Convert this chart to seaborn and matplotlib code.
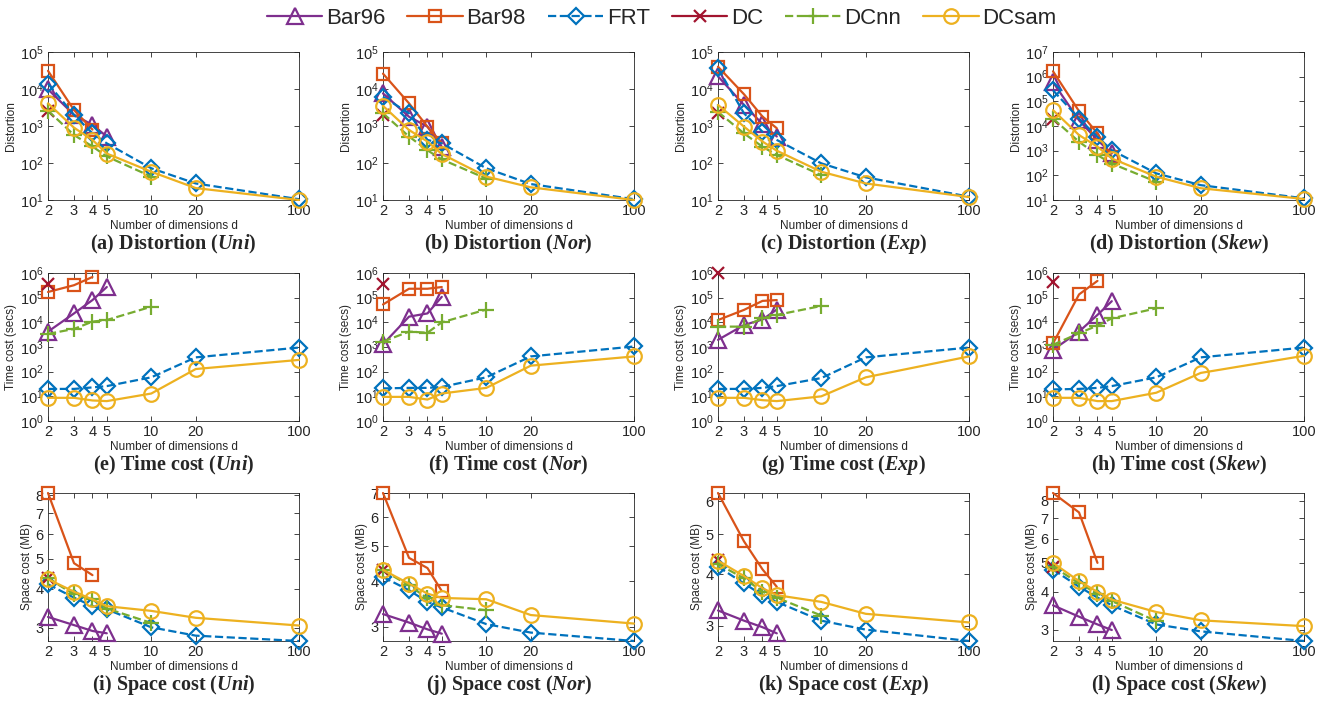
import numpy as np
import pandas as pd
import matplotlib
matplotlib.use("Agg")
import matplotlib.pyplot as plt
import seaborn as sns
from matplotlib.ticker import FixedLocator, FixedFormatter, NullLocator, LogLocator

dims = [2, 3, 4, 5, 10, 20, 100]
dim_labels = ["2", "3", "4", "5", "10", "20", "100"]
methods = ["Bar96", "Bar98", "FRT", "DC", "DCnn", "DCsam"]
dists = ["Uni", "Nor", "Exp", "Skew"]
N = None

# distortion
dist_uni = {"Bar96": [9800, 2000, 1070, 520, N, N, N],
            "Bar98": [31000, 2700, 800, N, N, N, N],
            "FRT": [14000, 2000, 630, 340, 72, 28, 10.5],
            "DC": [2550, N, N, N, N, N, N],
            "DCnn": [2600, 570, 280, 150, 43, N, N],
            "DCsam": [4100, 900, 420, 180, 58, 21, 10]}
dist_nor = {"Bar96": [7600, 1780, 960, 275, N, N, N],
            "Bar98": [26000, 4100, 960, 340, N, N, N],
            "FRT": [6200, 2200, 420, 340, 72, 27, 10.5],
            "DC": [2000, N, N, N, N, N, N],
            "DCnn": [2200, 520, 220, 125, 38, N, N],
            "DCsam": [3500, 780, 380, 175, 43, 22, 10]}
dist_exp = {"Bar96": [22000, 3700, 1130, 520, N, N, N],
            "Bar98": [40000, 7200, 1800, 870, N, N, N],
            "FRT": [36000, 2200, 700, 420, 98, 41, 12.3],
            "DC": [2300, N, N, N, N, N, N],
            "DCnn": [2400, 630, 275, 165, 47, N, N],
            "DCsam": [3700, 960, 380, 215, 58, 28, 12]}
dist_skew = {"Bar96": [6e5, 1.7e4, 2700, 770, N, N, N],
             "Bar98": [1.65e6, 4e4, 5000, 560, N, N, N],
             "FRT": [2.8e5, 2e4, 3600, 1050, 120, 40, 11.7],
             "DC": [2e4, N, N, N, N, N, N],
             "DCnn": [2e4, 2300, 660, 300, 55, N, N],
             "DCsam": [4.4e4, 4300, 1440, 480, 88, 30, 11]}

# time cost (secs)
time_uni = {"Bar96": [4200, 2.3e4, 8e4, 2.7e5, N, N, N],
            "Bar98": [1.7e5, 3.2e5, 6.9e5, N, N, N, N],
            "FRT": [20, 20, 23, 26, 59, 380, 950],
            "DC": [3.7e5, N, N, N, N, N, N],
            "DCnn": [3400, 5400, 1.07e4, 1.24e4, 4.3e4, N, N],
            "DCsam": [8.7, 8.7, 6.8, 6.4, 13, 128, 300]}
time_nor = {"Bar96": [1300, 1.7e4, 2.3e4, 1.08e5, N, N, N],
            "Bar98": [5.3e4, 2.3e5, 2.3e5, 2.7e5, N, N, N],
            "FRT": [21, 22, 22, 24, 59, 415, 1050],
            "DC": [3.5e5, N, N, N, N, N, N],
            "DCnn": [1660, 4200, 3800, 1e4, 3.3e4, N, N],
            "DCsam": [9.5, 9.5, 7.4, 13, 22, 175, 415]}
time_exp = {"Bar96": [1950, 7800, 1.3e4, 3.3e4, N, N, N],
            "Bar98": [1.24e4, 3.2e4, 7.4e4, 8e4, N, N, N],
            "FRT": [20, 20, 22, 26, 55, 380, 950],
            "DC": [1e6, N, N, N, N, N, N],
            "DCnn": [6700, 6700, 1.45e4, 2e4, 4.6e4, N, N],
            "DCsam": [8.7, 8.7, 7, 6.4, 10, 59, 415]}
time_skew = {"Bar96": [770, 4200, 2e4, 7.2e4, N, N, N],
             "Bar98": [1400, 1.35e5, 4.8e5, N, N, N, N],
             "FRT": [19, 20, 22, 26, 59, 380, 950],
             "DC": [4.4e5, N, N, N, N, N, N],
             "DCnn": [1230, 3600, 7400, 1.45e4, 3.7e4, N, N],
             "DCsam": [8.7, 8.7, 6.4, 6.4, 14, 89, 440]}

# space cost (MB)
space_uni = {"Bar96": [3.25, 3.06, 2.93, 2.88, N, N, N],
             "Bar98": [8.14, 4.84, 4.43, N, N, N, N],
             "FRT": [4.14, 3.75, 3.52, 3.44, 3.01, 2.83, 2.72],
             "DC": [4.35, N, N, N, N, N, N],
             "DCnn": [4.33, 3.84, 3.70, 3.46, 3.11, N, N],
             "DCsam": [4.30, 3.92, 3.70, 3.52, 3.40, 3.23, 3.05]}
space_nor = {"Bar96": [3.25, 3.08, 2.95, 2.87, N, N, N],
             "Bar98": [7.0, 4.64, 4.35, 3.76, N, N, N],
             "FRT": [4.11, 3.78, 3.51, 3.39, 3.05, 2.89, 2.74],
             "DC": [4.29, N, N, N, N, N, N],
             "DCnn": [4.29, 3.90, 3.59, 3.44, 3.33, N, N],
             "DCsam": [4.30, 3.94, 3.70, 3.60, 3.57, 3.23, 3.06]}
space_exp = {"Bar96": [3.27, 3.09, 2.98, 2.88, N, N, N],
             "Bar98": [6.28, 4.80, 4.11, 3.73, N, N, N],
             "FRT": [4.17, 3.80, 3.56, 3.43, 3.09, 2.94, 2.76],
             "DC": [4.33, N, N, N, N, N, N],
             "DCnn": [4.23, 3.91, 3.63, 3.51, 3.18, N, N],
             "DCsam": [4.31, 3.96, 3.70, 3.56, 3.43, 3.21, 3.06]}
space_skew = {"Bar96": [3.61, 3.31, 3.12, 2.99, N, N, N],
              "Bar98": [8.5, 7.33, 4.99, N, N, N, N],
              "FRT": [4.74, 4.16, 3.83, 3.61, 3.12, 2.96, 2.75],
              "DC": [4.84, N, N, N, N, N, N],
              "DCnn": [4.85, 4.27, 3.95, 3.73, 3.20, N, N],
              "DCsam": [4.99, 4.34, 4.0, 3.77, 3.43, 3.22, 3.08]}

rows = [
    ("Distortion", "Distortion", [dist_uni, dist_nor, dist_exp, dist_skew]),
    ("Time cost (secs)", "Time cost", [time_uni, time_nor, time_exp, time_skew]),
    ("Space cost (MB)", "Space cost", [space_uni, space_nor, space_exp, space_skew]),
]
letters = "abcdefghijkl"

colors = {"Bar96": "#7E2F8E", "Bar98": "#D95319", "FRT": "#0072BD",
          "DC": "#A2142F", "DCnn": "#77AC30", "DCsam": "#EDB120"}
markers = {"Bar96": "^", "Bar98": "s", "FRT": "D", "DC": "x", "DCnn": "+", "DCsam": "o"}
msizes = {"Bar96": 11.5, "Bar98": 8.5, "FRT": 8, "DC": 9, "DCnn": 12, "DCsam": 10.5}
styles = {"FRT": "--", "DCnn": "--"}

sns.set_style("ticks")
plt.rcParams["font.family"] = ["Liberation Sans", "DejaVu Sans"]
plt.rcParams["mathtext.fontset"] = "custom"
plt.rcParams["mathtext.rm"] = "Liberation Sans"
plt.rcParams["mathtext.bf"] = "Liberation Serif:bold"
plt.rcParams["mathtext.bfit"] = "Liberation Serif:italic:bold"
plt.rcParams["axes.edgecolor"] = "#262626"
plt.rcParams["axes.linewidth"] = 0.6

fig = plt.figure(figsize=(13.23, 7.02), dpi=100)
W, H = 1323, 702
lefts = [48, 383, 718, 1053]
width = 251
tops = [52, 273, 493]
height = 148

handles = None
for r, (ylab, tname, panels) in enumerate(rows):
    for c, pdata in enumerate(panels):
        ax = fig.add_axes([lefts[c] / W, 1 - (tops[r] + height) / H, width / W, height / H])
        ax.set_xscale("log")
        ax.set_yscale("log")
        frames = []
        for m in methods:
            df = pd.DataFrame({"d": dims, "value": pdata[m]}).dropna()
            df["value"] = df["value"].astype(float)
            frames.append(df["value"])
            sns.lineplot(data=df, x="d", y="value", ax=ax, color=colors[m],
                         marker=markers[m], markersize=msizes[m],
                         markerfacecolor="none", markeredgecolor=colors[m],
                         markeredgewidth=1.6, linewidth=1.6,
                         linestyle=styles.get(m, "-"), label=m,
                         errorbar=None, clip_on=False, zorder=3)
        if ax.get_legend() is not None:
            if handles is None:
                handles, labs = ax.get_legend_handles_labels()
            ax.get_legend().remove()
        ax.set_xlim(2, 100)
        ax.xaxis.set_major_locator(FixedLocator(dims))
        ax.xaxis.set_major_formatter(FixedFormatter(dim_labels))
        ax.xaxis.set_minor_locator(NullLocator())
        if r == 0:
            ax.set_ylim(10, 1e7 if c == 3 else 1e5)
            ax.yaxis.set_major_locator(LogLocator(base=10, numticks=10))
            ax.yaxis.set_minor_locator(NullLocator())
        elif r == 1:
            ax.set_ylim(1, 1e6)
            ax.yaxis.set_major_locator(LogLocator(base=10, numticks=10))
            ax.yaxis.set_minor_locator(NullLocator())
        else:
            allv = pd.concat(frames)
            lo, hi = allv.min(), allv.max()
            ax.set_ylim(lo, hi)
            ticks = [t for t in range(3, 9) if lo <= t <= hi + 1e-9]
            ax.yaxis.set_major_locator(FixedLocator(ticks))
            ax.yaxis.set_major_formatter(FixedFormatter([str(t) for t in ticks]))
            ax.yaxis.set_minor_locator(NullLocator())
        ax.tick_params(axis="both", which="both", direction="in", top=True, right=True,
                       labelsize=10.5, colors="#262626", length=3.5, width=0.6, pad=3)
        ax.set_xlabel("Number of dimensions d", fontsize=8.5, color="#262626", labelpad=1.5)
        ax.set_ylabel(ylab, fontsize=8.5, color="#262626", labelpad=2)
        idx = r * 4 + c
        title = "(" + letters[idx] + ") " + tname + " ($\\mathbfit{" + dists[c] + "}$)"
        ax.annotate(title, xy=(0.5, 0), xycoords="axes fraction",
                    xytext=(0, -32), textcoords="offset points",
                    ha="center", va="center", fontsize=14.5,
                    fontweight="bold", family="Liberation Serif")

fig.legend(handles, methods, loc="center", bbox_to_anchor=(0.5, 1 - 18 / H),
           ncol=6, frameon=False, fontsize=16, handlelength=2.5,
           handletextpad=0.15, columnspacing=1.0, borderaxespad=0)

fig.savefig("out.png", dpi=100)
